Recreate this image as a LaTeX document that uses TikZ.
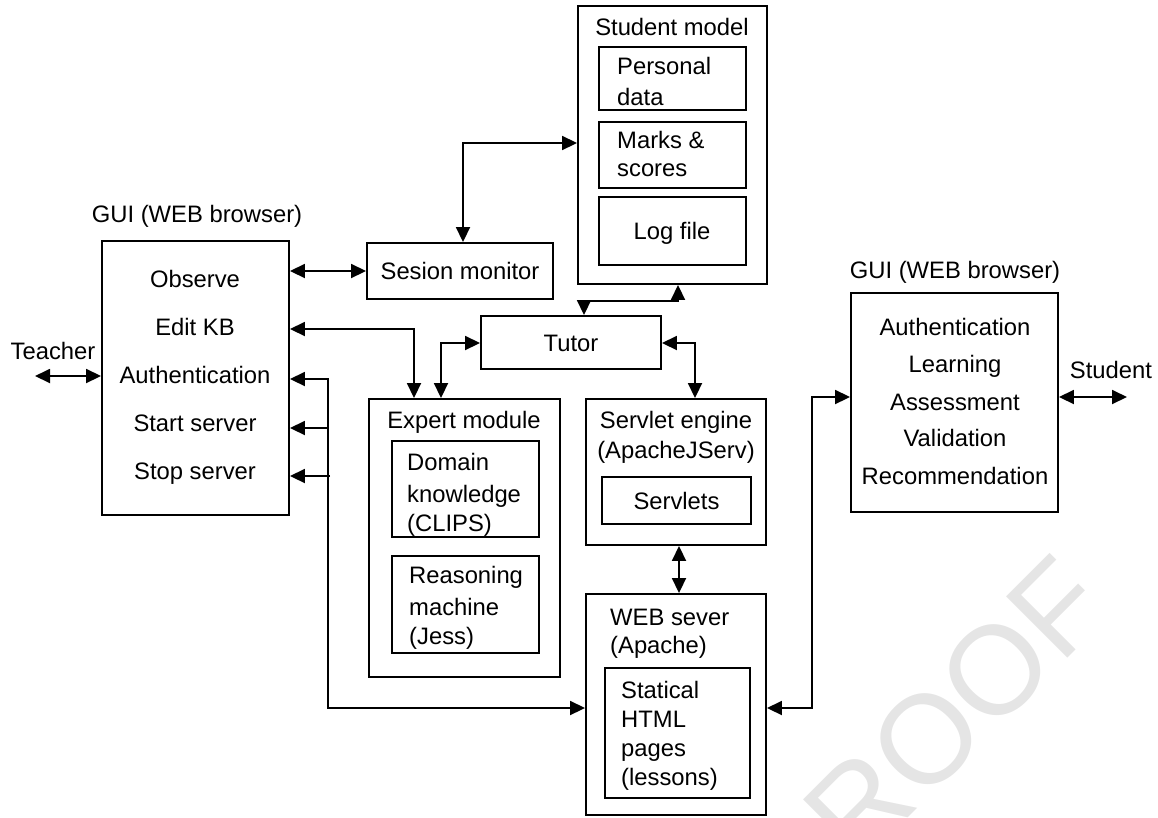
\documentclass[tikz,border=0pt]{standalone}
\usepackage{fontspec}
\setmainfont{Liberation Sans}
\usetikzlibrary{arrows.meta}
\newcommand\fs{\fontsize{23.8}{30}\selectfont}
\tikzset{
  box/.style={draw, line width=1.9pt, inner sep=0pt},
  ln/.style={font=\fs, inner sep=0pt, text height=17pt, text depth=0pt},
  con/.style={line width=1.8pt, >={Triangle[length=15pt,width=14pt]}},
}
\begin{document}
\begin{tikzpicture}[x=1pt,y=-1pt]
\useasboundingbox (0,0) rectangle (1158,817);
% watermark
\begin{scope}
\clip (0,0) rectangle (1158,817);
\node[rotate=45, text=black!10, font=\fontsize{126}{126}\selectfont, inner sep=0pt, text height=90pt, text depth=0pt] (wm) at (925,738) {PROOF};
\end{scope}
% boxes
\node[box, minimum width=187pt, minimum height=274pt] (guiL) at (195.5,378) {};
\node[box, minimum width=186pt, minimum height=56pt] (sesion) at (460,271) {};
\node[box, minimum width=189pt, minimum height=278pt] (student) at (672.5,145) {};
\node[box, minimum width=147pt, minimum height=63pt] (pers) at (672.5,78.5) {};
\node[box, minimum width=147pt, minimum height=66pt] (marks) at (672.5,155) {};
\node[box, minimum width=147pt, minimum height=68pt] (log) at (672.5,231) {};
\node[box, minimum width=180pt, minimum height=53pt] (tutor) at (571,342.5) {};
\node[box, minimum width=191pt, minimum height=278pt] (expert) at (464.5,538) {};
\node[box, minimum width=147pt, minimum height=96pt] (domain) at (465.5,489) {};
\node[box, minimum width=147pt, minimum height=97pt] (reason) at (465.5,604.5) {};
\node[box, minimum width=180pt, minimum height=146pt] (servlet) at (676,472) {};
\node[box, minimum width=149pt, minimum height=47pt] (servlets) at (676.5,500.5) {};
\node[box, minimum width=180pt, minimum height=221pt] (web) at (676,704.5) {};
\node[box, minimum width=145pt, minimum height=130pt] (html) at (677.5,733) {};
\node[box, minimum width=207pt, minimum height=219pt] (guiR) at (954.5,402.5) {};
% texts
\node[ln] (tGuiL) at (197,214) {GUI (WEB browser)};
\node[ln] (tObs) at (195,279) {Observe};
\node[ln] (tEdit) at (195,327) {Edit KB};
\node[ln] (tAuth) at (195,375) {Authentication};
\node[ln] (tStart) at (195,423) {Start server};
\node[ln] (tStop) at (195,471) {Stop server};
\node[ln] (tTeacher) at (53,351) {Teacher};
\node[ln] (tSes) at (sesion) {Sesion monitor};
\node[ln] (tStu) at (672,27) {Student model};
\node[ln, anchor=west] (tPers1) at (617,66) {Personal};
\node[ln, anchor=west] (tPers2) at (617,97) {data};
\node[ln, anchor=west] (tMarks1) at (617,140) {Marks \&};
\node[ln, anchor=west] (tMarks2) at (617,168) {scores};
\node[ln] (tLog) at (672,231) {Log file};
\node[ln] (tTutor) at (tutor) {Tutor};
\node[ln] (tExp) at (464,420) {Expert module};
\node[ln, anchor=west] (tDom1) at (407,462) {Domain};
\node[ln, anchor=west] (tDom2) at (407,494) {knowledge};
\node[ln, anchor=west] (tDom3) at (407,523) {(CLIPS)};
\node[ln, anchor=west] (tRea1) at (409,575) {Reasoning};
\node[ln, anchor=west] (tRea2) at (409,607) {machine};
\node[ln, anchor=west] (tRea3) at (409,636) {(Jess)};
\node[ln] (tSrv1) at (676,420) {Servlet engine};
\node[ln] (tSrv2) at (676,450) {(ApacheJServ)};
\node[ln] (tSrvs) at (servlets) {Servlets};
\node[ln, anchor=west] (tWeb1) at (610,617) {WEB sever};
\node[ln, anchor=west] (tWeb2) at (610,645) {(Apache)};
\node[ln, anchor=west] (tH1) at (621,690) {Statical};
\node[ln, anchor=west] (tH2) at (621,719) {HTML};
\node[ln, anchor=west] (tH3) at (621,748) {pages};
\node[ln, anchor=west] (tH4) at (621,777) {(lessons)};
\node[ln] (tGuiR) at (955,270) {GUI (WEB browser)};
\node[ln] (tR1) at (955,327) {Authentication};
\node[ln] (tR2) at (955,364) {Learning};
\node[ln] (tR3) at (955,402) {Assessment};
\node[ln] (tR4) at (955,438) {Validation};
\node[ln] (tR5) at (955,476) {Recommendation};
\node[ln] (tStudent) at (1111,370) {Student};
% free ends
\coordinate (teach) at (35,376);
\coordinate (stud) at (1127,397);
\coordinate (bus) at (328,708);
\coordinate (bend) at (812,397);
% connectors
\begin{scope}[con]
\draw[<->] (teach) -- (guiL.west |- teach);
\draw[<->] (guiL.east |- sesion.west) -- (sesion.west);
\draw[<->] (guiL.east |- 0,329) -| (414,0 |- expert.north);
\draw[<->] (guiL.east |- 0,379) -| (bus) -- (web.west |- bus);
\draw[->] (328,428) -- (guiL.east |- 0,428);
\draw[->] (330,476) -- (guiL.east |- 0,476);
\draw[<->] (463,0 |- sesion.north) |- (student.west |- 0,143);
\draw[<->] (584,0 |- tutor.north) |- (678,301) -- (678,0 |- student.south);
\draw[<->] (tutor.west |- 0,343) -| (441,0 |- expert.north);
\draw[<->] (tutor.east |- 0,343) -| (695,0 |- servlet.north);
\draw[<->] (679,0 |- servlet.south) -- (679,0 |- web.north);
\draw[<->] (web.east |- bus) -| (bend) -- (guiR.west |- bend);
\draw[<->] (guiR.east |- stud) -- (stud);
\end{scope}
\end{tikzpicture}
\end{document}
